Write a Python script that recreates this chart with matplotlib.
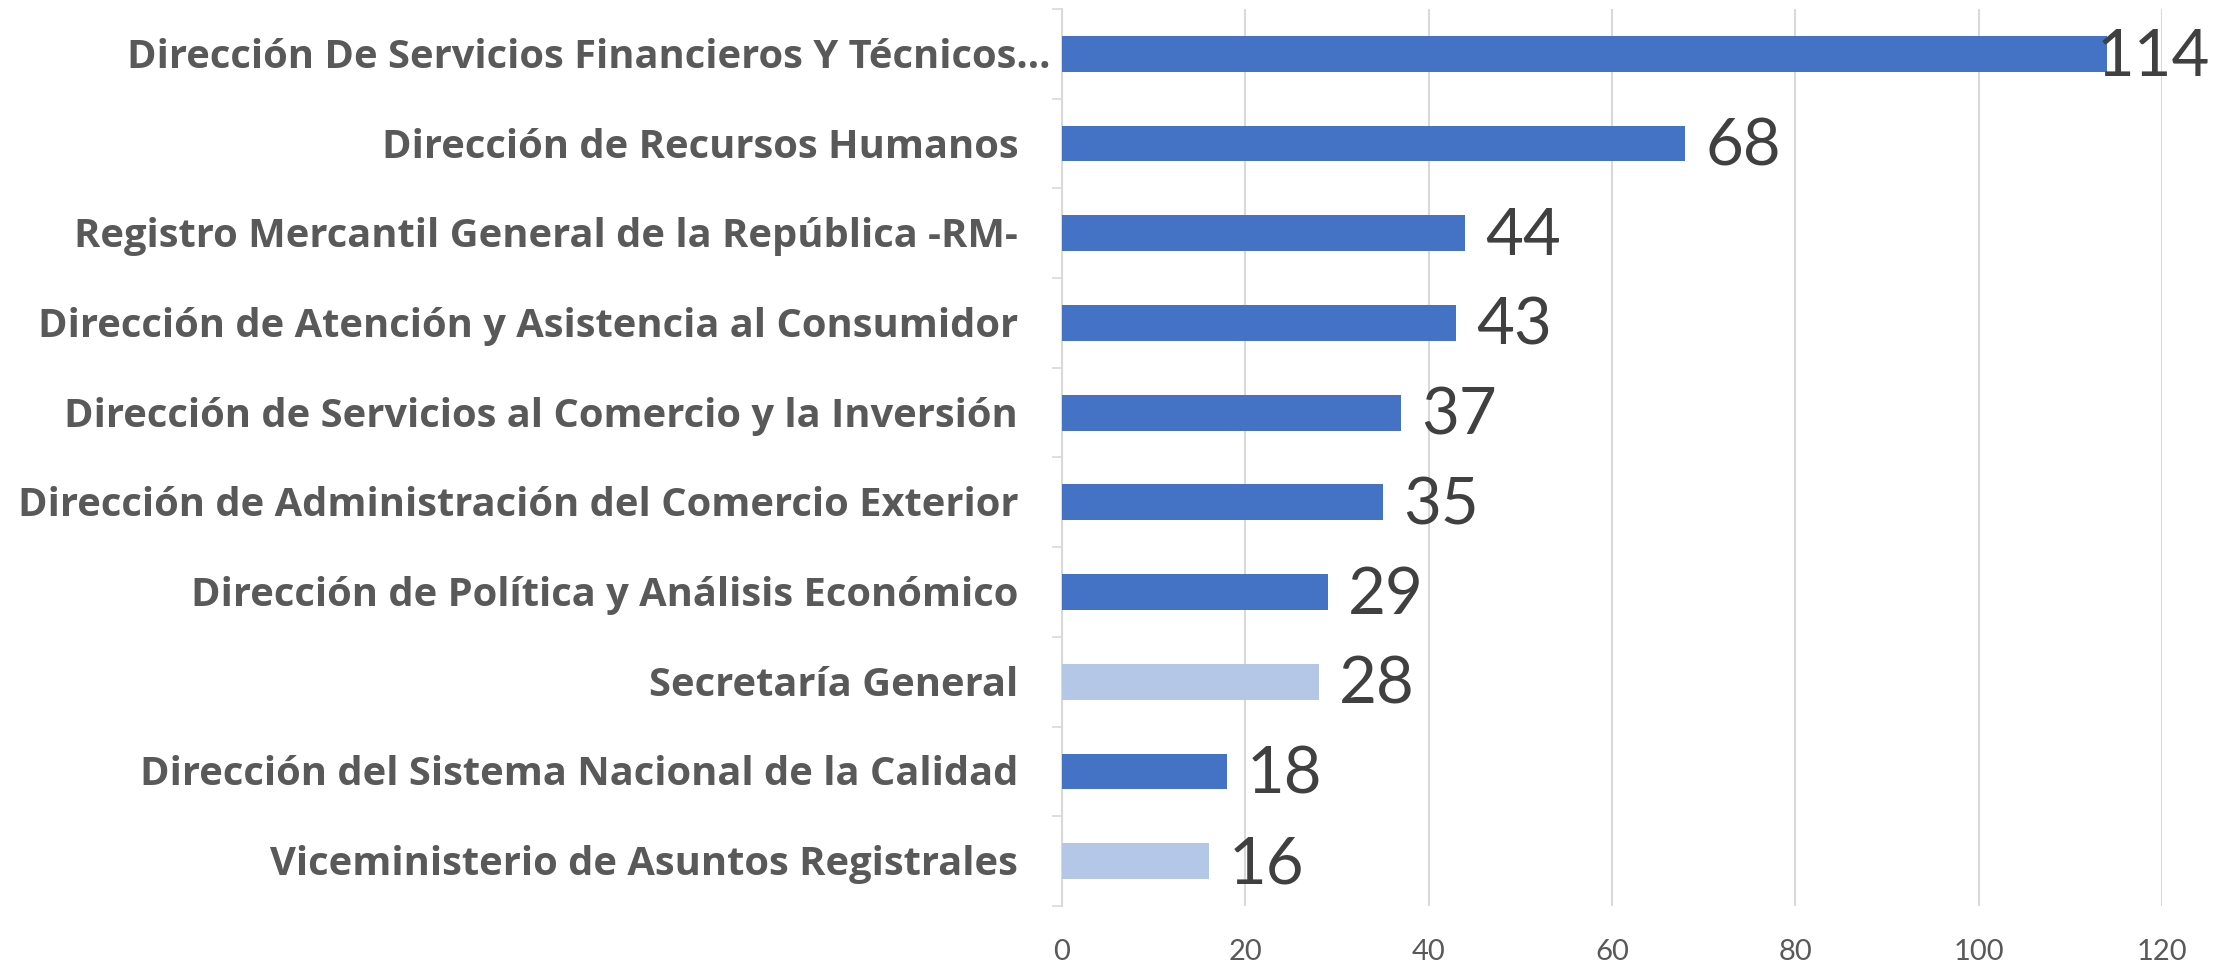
"""Horizontal bar chart: staff count per dependency."""
import matplotlib
matplotlib.use("Agg")
import matplotlib.pyplot as plt
from matplotlib import transforms
import numpy as np

# top to bottom as in the picture
CATEGORIES = [
    "Dirección De Servicios Financieros Y Técnicos...",
    "Dirección de Recursos Humanos",
    "Registro Mercantil General de la República -RM-",
    "Dirección de Atención y Asistencia al Consumidor",
    "Dirección de Servicios al Comercio y la Inversión",
    "Dirección de Administración del Comercio Exterior",
    "Dirección de Política y Análisis Económico",
    "Secretaría General",
    "Dirección del Sistema Nacional de la Calidad",
    "Viceministerio de Asuntos Registrales",
]
VALUES = [114, 68, 44, 43, 37, 35, 29, 28, 18, 16]
HIGHLIGHT = [True, True, True, True, True, True, True, False, True, False]
X_TICKS = [0, 20, 40, 60, 80, 100, 120]

DARK = "#4472C4"
LIGHT = "#B4C7E7"
GRID = "#D9D9D9"
FONT = ["Lato", "DejaVu Sans"]
LABEL_FONT = ["Open Sans", "DejaVu Sans"]


def main():
    plt.rcParams["font.family"] = FONT
    W, H = 2218, 973
    fig = plt.figure(figsize=(W / 100, H / 100), dpi=100)
    ax = fig.add_axes([1062 / W, 1 - 906 / H, 1100 / W, 897 / H])

    n = len(CATEGORIES)
    y = np.arange(n)[::-1]
    colors = [DARK if h else LIGHT for h in HIGHLIGHT]
    ax.barh(y, VALUES, height=0.40, color=colors, zorder=3)

    ax.set_xlim(0, 120)
    ax.set_ylim(-0.5, n - 0.5)

    # value labels; a label that would run off the figure is pulled back
    # inside (as Excel does with the 114)
    fig.canvas.draw()
    renderer = fig.canvas.get_renderer()
    down = transforms.offset_copy(ax.transData, fig=fig, y=-2.5, units="points")
    for yi, v in zip(y, VALUES):
        t = ax.text(v + 2.2, yi, str(v), va="center", ha="left",
                    fontsize=47, color="#404040", clip_on=False, zorder=4,
                    transform=down)
        bb = t.get_window_extent(renderer)
        if bb.x1 > W - 8:
            t.set_ha("right")
            edge = transforms.blended_transform_factory(fig.transFigure,
                                                        ax.transData)
            t.set_transform(transforms.offset_copy(edge, fig=fig, y=-2.5,
                                                   units="points"))
            t.set_position((1 - 8 / W, yi))

    ax.set_xticks(X_TICKS)
    ax.set_xticklabels([str(t) for t in X_TICKS], fontsize=21, color="#595959")
    ax.tick_params(axis="x", length=0, pad=24)

    # category labels: the truncated one ("...") sits closer to the axis
    ax.set_yticks([])
    for yi, lab in zip(y, CATEGORIES):
        off = -8.6 if lab.endswith("...") else -31.5
        ax.annotate(lab, (0, yi), xytext=(off, -2.5), textcoords="offset points",
                    ha="right", va="center", fontsize=28.7, fontweight="bold",
                    color="#595959", family=LABEL_FONT, annotation_clip=False)
    ax.set_yticks(np.arange(n + 1) - 0.5, minor=True)
    ax.tick_params(axis="y", which="minor", length=7, width=1.2, color=GRID)

    ax.grid(axis="x", color=GRID, linewidth=1.5, zorder=0)
    for side in ["top", "right", "bottom"]:
        ax.spines[side].set_visible(False)
    ax.spines["left"].set_color(GRID)
    ax.spines["left"].set_linewidth(1.5)

    fig.savefig("out.png", dpi=100)
    plt.close(fig)


if __name__ == "__main__":
    main()
